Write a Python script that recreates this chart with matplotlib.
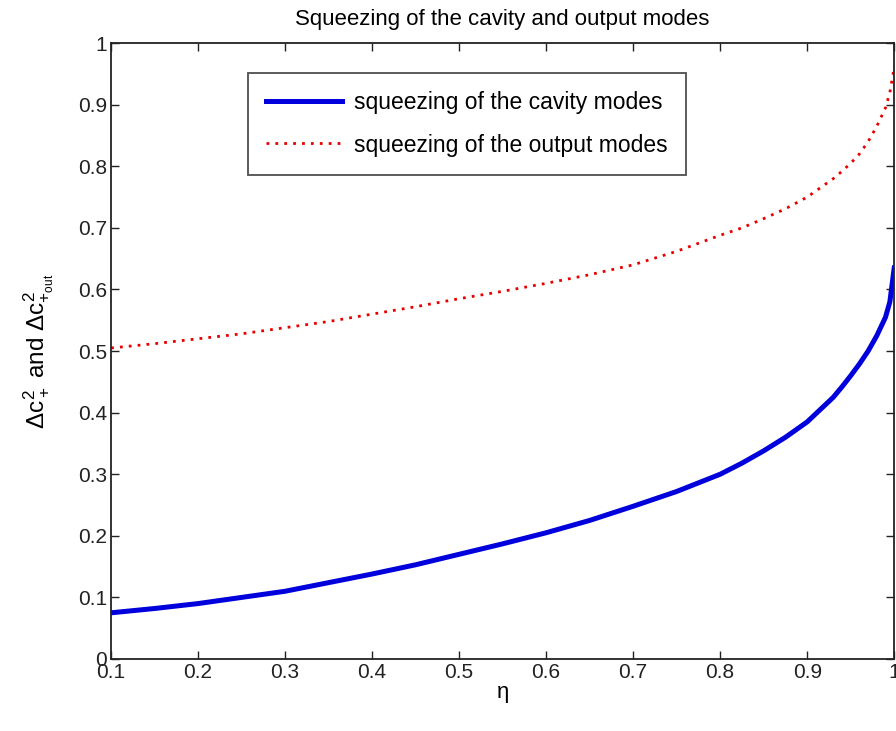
import matplotlib
matplotlib.use("Agg")
import matplotlib.pyplot as plt
import numpy as np

plt.rcParams['font.family'] = ['Liberation Sans', 'DejaVu Sans']
plt.rcParams['mathtext.fontset'] = 'custom'
plt.rcParams['mathtext.rm'] = 'Liberation Sans'
plt.rcParams['mathtext.it'] = 'Liberation Sans'

# values
eta = [0.1, 0.15, 0.2, 0.25, 0.3, 0.35, 0.4, 0.45, 0.5, 0.55, 0.6, 0.65, 0.7, 0.75, 0.8,
       0.825, 0.85, 0.875, 0.9, 0.915, 0.93, 0.94, 0.95, 0.96, 0.97, 0.98, 0.99, 0.995, 1.0]
cavity = [0.075, 0.082, 0.09, 0.10, 0.11, 0.124, 0.138, 0.153, 0.17, 0.187, 0.205, 0.225, 0.248, 0.272, 0.30,
          0.318, 0.338, 0.36, 0.385, 0.405, 0.425, 0.442, 0.46, 0.479, 0.50, 0.525, 0.555, 0.58, 0.635]
output = [0.505, 0.512, 0.52, 0.528, 0.538, 0.548, 0.56, 0.572, 0.585, 0.597, 0.61, 0.624, 0.64, 0.662, 0.688,
          0.70, 0.715, 0.731, 0.75, 0.765, 0.78, 0.792, 0.805, 0.82, 0.84, 0.865, 0.895, 0.92, 0.96]

x_ticks = [0.1, 0.2, 0.3, 0.4, 0.5, 0.6, 0.7, 0.8, 0.9, 1]
y_ticks = [0, 0.1, 0.2, 0.3, 0.4, 0.5, 0.6, 0.7, 0.8, 0.9, 1]

fig = plt.figure(figsize=(8.96, 7.31), dpi=100)
ax = fig.add_axes([0.124, 0.0985, 0.874, 0.8425])

ax.plot(eta, cavity, color='#0000dd', lw=3.6, label='squeezing of the cavity modes')
ax.plot(eta, output, color='#e80000', lw=2, ls=(0, (1, 2.2)), label='squeezing of the output modes')

ax.set_xlim(0.1, 1)
ax.set_ylim(0, 1)
ax.set_xticks(x_ticks)
ax.set_xticklabels(['0.1', '0.2', '0.3', '0.4', '0.5', '0.6', '0.7', '0.8', '0.9', '1'])
ax.set_yticks(y_ticks)
ax.set_yticklabels(['0', '0.1', '0.2', '0.3', '0.4', '0.5', '0.6', '0.7', '0.8', '0.9', '1'])
ax.tick_params(direction='in', top=True, right=True, length=6, width=1, labelsize=15, pad=3,
               colors='#222222')
for s in ax.spines.values():
    s.set_linewidth(1.3)
    s.set_color('#222222')

ax.set_title('Squeezing of the cavity and output modes', fontsize=16, pad=13)
ax.set_xlabel(r'$\eta$', fontsize=16, labelpad=1)
ax.set_ylabel(r'$\Delta c_+^2$ and $\Delta c_{+_{\rm out}}^2$', fontsize=17.5, labelpad=16)

leg = ax.legend(loc='upper left', bbox_to_anchor=(0.175, 0.952), fontsize=16.5,
                frameon=True, fancybox=False, edgecolor='#222222', handlelength=3.3,
                handletextpad=0.5, borderpad=0.8, labelspacing=0.85, borderaxespad=0)
leg.get_frame().set_linewidth(1.3)

fig.savefig('out.png', dpi=100)
